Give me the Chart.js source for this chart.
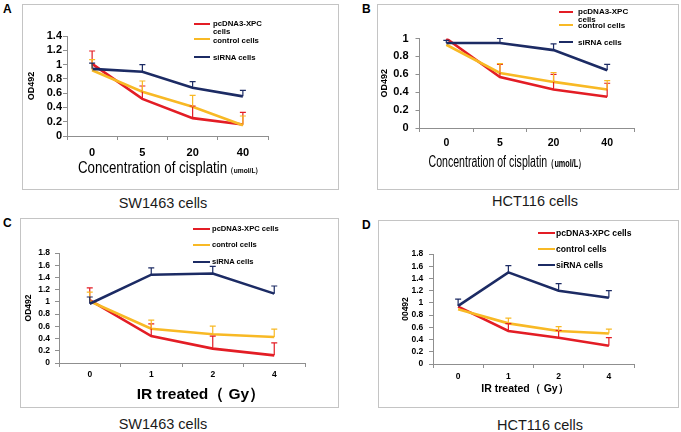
<!DOCTYPE html>
<html>
<head>
<meta charset="utf-8">
<script src="https://cdn.jsdelivr.net/npm/chart.js@4.4.1/dist/chart.umd.min.js"></script>
<style>
  body { margin: 0; background: #fff; font-family: "Liberation Sans", Arial, sans-serif; color: #000; }
  #page { position: relative; width: 681px; height: 432px; overflow: hidden; }
  .box { position: absolute; border: 1px solid #c4c4c4; box-sizing: border-box; }
  canvas { position: absolute; }
  .c { position: absolute; white-space: nowrap; transform: translate(-50%, -50%); }
  .letter { position: absolute; font-weight: bold; font-size: 12px; }
  .cap { font-size: 14.5px; color: #1a1a1a; }
  .leg { position: absolute; font-weight: bold; }
  .legline { position: absolute; height: 2px; }
</style>
</head>
<body>
<div id="page">
  <div class="box" style="left:22px;top:4px;width:317px;height:186px"></div>
  <div class="box" style="left:377px;top:4px;width:302px;height:186px"></div>
  <div class="box" style="left:20px;top:218px;width:319px;height:190px"></div>
  <div class="box" style="left:378px;top:220px;width:301px;height:188px"></div>

  <div class="letter" style="left:3px;top:2px">A</div>
  <div class="letter" style="left:362px;top:2px">B</div>
  <div class="letter" style="left:3px;top:216px">C</div>
  <div class="letter" style="left:362px;top:218px">D</div>

  <canvas id="chartA"></canvas>
  <canvas id="chartB"></canvas>
  <canvas id="chartC"></canvas>
  <canvas id="chartD"></canvas>

  <div class="c" style="left:170px;top:168px;font-size:16px;transform:translate(-50%,-50%) scaleX(0.83)">Concentration of cisplatin<b style="font-size:8px">（umol/L）</b></div>
  <div class="c" style="left:507px;top:162px;font-size:16px;transform:translate(-50%,-50%) scaleX(0.66)">Concentration of cisplatin<b style="font-size:11px">（umol/L）</b></div>
  <div class="c" style="left:201px;top:394px;font-size:15.5px;font-weight:bold">IR treated（ Gy）</div>
  <div class="c" style="left:525px;top:389px;font-size:10.5px;font-weight:bold">IR treated（ Gy）</div>

  <div class="c cap" style="left:163px;top:203px">SW1463 cells</div>
  <div class="c cap" style="left:535px;top:201px">HCT116 cells</div>
  <div class="c cap" style="left:163px;top:424px">SW1463 cells</div>
  <div class="c cap" style="left:540px;top:425px">HCT116 cells</div>
</div>

<script>
// series names and colours
const seriesNames = ["pcDNA3-XPC cells", "control cells", "siRNA cells"];
const seriesColors = ["#e31d25", "#f8b925", "#1c2b64"];

// A: SW1463, cisplatin
const doseLabels = ["0", "5", "20", "40"];
const ticksA = [0, 0.2, 0.4, 0.6, 0.8, 1, 1.2, 1.4];
const xpcA = [1.01, 0.52, 0.25, 0.16];
const controlA = [0.92, 0.62, 0.41, 0.15];
const sirnaA = [0.94, 0.90, 0.675, 0.555];
const xpcErrA = [0.18, 0.18, 0.17, 0.17];
const controlErrA = [0.15, 0.15, 0.16, 0.13];
const sirnaErrA = [0.08, 0.10, 0.085, 0.085];

// B: HCT116, cisplatin
const ticksB = [0, 0.2, 0.4, 0.6, 0.8, 1];
const xpcB = [1.0, 0.57, 0.43, 0.35];
const controlB = [0.93, 0.615, 0.515, 0.43];
const sirnaB = [0.95, 0.95, 0.87, 0.645];
const xpcErrB = [0, 0.14, 0.17, 0.15];
const controlErrB = [0, 0.105, 0.105, 0.10];
const sirnaErrB = [0.03, 0.05, 0.07, 0.065];

// C: SW1463, IR
const irLabels = ["0", "1", "2", "4"];
const ticksCD = [0, 0.2, 0.4, 0.6, 0.8, 1, 1.2, 1.4, 1.6, 1.8];
const xpcC = [1.03, 0.44, 0.235, 0.125];
const controlC = [1.01, 0.56, 0.47, 0.425];
const sirnaC = [0.97, 1.445, 1.465, 1.135];
const xpcErrC = [0.20, 0.20, 0.205, 0.205];
const controlErrC = [0.15, 0.14, 0.135, 0.13];
const sirnaErrC = [0.11, 0.11, 0.115, 0.125];

// D: HCT116, IR
const xpcD = [0.94, 0.54, 0.43, 0.30];
const controlD = [0.895, 0.665, 0.54, 0.50];
const sirnaD = [0.95, 1.5, 1.2, 1.085];
const xpcErrD = [0, 0.12, 0.12, 0.13];
const controlErrD = [0, 0.085, 0.07, 0.07];
const sirnaErrD = [0.11, 0.11, 0.115, 0.115];

const axisGrey = "#8f8f8f";
const fam = '"Liberation Sans", Arial, sans-serif';

// upward error bars with a small cap
const errorBars = {
  id: "errorBars",
  afterDatasetsDraw(chart) {
    const ctx = chart.ctx;
    const y = chart.scales.y;
    chart.data.datasets.forEach((ds, i) => {
      const meta = chart.getDatasetMeta(i);
      meta.data.forEach((pt, j) => {
        const sd = ds.sd[j];
        if (!sd) return;
        const yTop = y.getPixelForValue(ds.data[j] + sd);
        ctx.save();
        ctx.strokeStyle = ds.borderColor;
        ctx.lineWidth = 1.2;
        ctx.beginPath();
        ctx.moveTo(pt.x, pt.y);
        ctx.lineTo(pt.x, yTop);
        ctx.moveTo(pt.x - 3, yTop);
        ctx.lineTo(pt.x + 3, yTop);
        ctx.stroke();
        ctx.restore();
      });
    });
  }
};

function drawPanel(id, p) {
  const cv = document.getElementById(id);
  const [bx, by, bw, bh] = p.box;
  cv.width = bw; cv.height = bh;
  cv.style.left = bx + "px"; cv.style.top = by + "px";
  const padLeft = p.yTitleX - bx - p.yTitleSize * 1.2 / 2;
  const yWidth = p.area[0] - bx - padLeft;
  const xHeight = 20;

  new Chart(cv, {
    type: "line",
    data: {
      labels: p.labels,
      datasets: p.series.map((s, i) => ({
        label: seriesNames[i],
        data: s,
        sd: p.errors[i],
        borderColor: seriesColors[i],
        backgroundColor: seriesColors[i],
        borderWidth: 2.6,
        pointRadius: 0,
        tension: 0,
        fill: false,
        order: 3 - i
      }))
    },
    options: {
      responsive: false,
      animation: false,
      layout: {
        padding: {
          left: padLeft,
          top: p.area[1] - by,
          right: bx + bw - p.area[2],
          bottom: by + bh - p.area[3] - xHeight
        }
      },
      plugins: { legend: { display: false }, tooltip: { enabled: false } },
      scales: {
        x: {
          offset: true,
          grid: { display: true, drawOnChartArea: false, tickLength: 4, color: axisGrey, offset: true },
          border: { color: axisGrey, width: 1 },
          ticks: { color: "#000", padding: p.xPad, maxRotation: 0, autoSkip: false,
                   font: { family: fam, weight: "bold", size: p.xTickSize } },
          afterFit: s => { s.height = xHeight; }
        },
        y: {
          min: 0,
          max: p.yTicks[p.yTicks.length - 1],
          afterBuildTicks: s => { s.ticks = p.yTicks.map(v => ({ value: v })); },
          grid: { drawOnChartArea: false, tickLength: 4, color: axisGrey },
          border: { color: axisGrey, width: 1 },
          ticks: { color: "#000", padding: p.yPad, autoSkip: false, callback: v => String(+v.toFixed(1)),
                   font: { family: fam, weight: "bold", size: p.yTickSize } },
          title: { display: true, text: p.yTitle, color: "#000", padding: 0,
                   font: { family: fam, weight: "bold", size: p.yTitleSize } },
          afterFit: s => { s.width = yWidth; }
        }
      }
    },
    plugins: [errorBars]
  });

  // legend, placed inside the panel like in the figure
  const page = document.getElementById("page");
  p.legend.rows.forEach((r, i) => {
    const ln = document.createElement("div");
    ln.className = "legline";
    ln.style.cssText = `left:${p.legend.x}px;top:${r[0] - 1}px;width:${p.legend.w}px;background:${seriesColors[i]}`;
    page.appendChild(ln);
    const tx = document.createElement("div");
    tx.className = "leg";
    tx.textContent = seriesNames[i];
    const lh = p.legend.lh || p.legend.size;
    tx.style.cssText = `left:${p.legend.tx}px;top:${r[1] - lh / 2}px;font-size:${p.legend.size}px;line-height:${lh}px;` +
      (p.legend.wrap ? `width:${p.legend.wrap}px;` : "white-space:nowrap;");
    page.appendChild(tx);
  });
}

drawPanel("chartA", {
  box: [22, 4, 317, 186], area: [67, 36, 268, 136],
  labels: doseLabels, yTicks: ticksA,
  series: [xpcA, controlA, sirnaA], errors: [xpcErrA, controlErrA, sirnaErrA],
  yTitle: "OD492", yTitleX: 31.5, yTitleSize: 9,
  yTickSize: 11, yPad: 1, xTickSize: 11, xPad: 6.5,
  legend: { x: 194, w: 16, tx: 213, size: 7.8, lh: 8, wrap: 52, rows: [[24, 24], [39, 41], [57, 58]] }
});

drawPanel("chartB", {
  box: [377, 4, 302, 186], area: [419.5, 38.5, 634, 128],
  labels: doseLabels, yTicks: ticksB,
  series: [xpcB, controlB, sirnaB], errors: [xpcErrB, controlErrB, sirnaErrB],
  yTitle: "OD492", yTitleX: 385, yTitleSize: 9,
  yTickSize: 11, yPad: 7, xTickSize: 10.5, xPad: 4.75,
  legend: { x: 559, w: 14, tx: 578, size: 8, lh: 7.5, wrap: 54, rows: [[12, 12], [25, 26], [42, 43]] }
});

drawPanel("chartC", {
  box: [20, 218, 319, 190], area: [59, 253, 305, 363],
  labels: irLabels, yTicks: ticksCD,
  series: [xpcC, controlC, sirnaC], errors: [xpcErrC, controlErrC, sirnaErrC],
  yTitle: "OD492", yTitleX: 28.5, yTitleSize: 8.5,
  yTickSize: 8.5, yPad: 5, xTickSize: 8.5, xPad: 3,
  legend: { x: 193, w: 17, tx: 212, size: 7.6, rows: [[229, 229], [245, 245], [262, 262]] }
});

drawPanel("chartD", {
  box: [378, 220, 301, 188], area: [433, 254, 634, 364],
  labels: irLabels, yTicks: ticksCD,
  series: [xpcD, controlD, sirnaD], errors: [xpcErrD, controlErrD, sirnaErrD],
  yTitle: "00492", yTitleX: 406, yTitleSize: 8.5,
  yTickSize: 8.5, yPad: 5.7, xTickSize: 8.5, xPad: 3.75,
  legend: { x: 538, w: 17, tx: 556, size: 8.6, rows: [[233, 233], [249, 249], [265, 265]] }
});
</script>
</body>
</html>
